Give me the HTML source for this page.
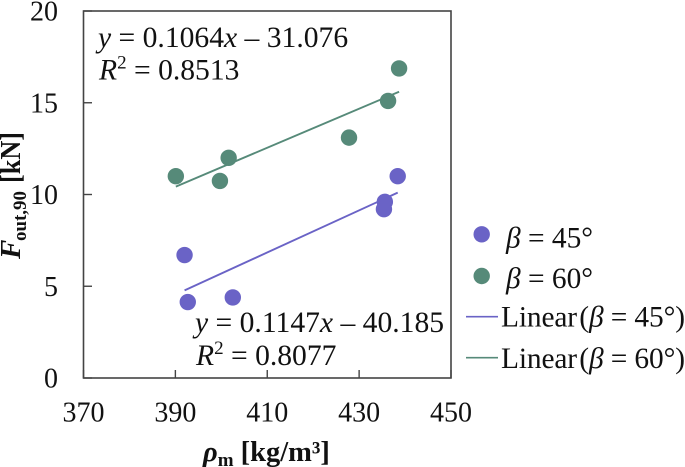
<!DOCTYPE html>
<html lang="en">
<head>
<meta charset="utf-8">
<title>Fout,90 vs density</title>
<style>
html,body{margin:0;padding:0;background:#fff;width:685px;height:467px;overflow:hidden}
svg{display:block}
text{font-family:"Liberation Serif",serif;fill:#111}
.i{font-style:italic}
.b{font-weight:bold}
</style>
</head>
<body>
<svg id="chart" width="685" height="467" viewBox="0 0 685 467" xmlns="http://www.w3.org/2000/svg">
  <rect x="83.5" y="11" width="367.5" height="367" fill="#fff" stroke="#444" stroke-width="1.6"/>
  <g id="marks"></g>
  <g id="ticks"></g>

  <text x="98" y="47" font-size="29.6"><tspan class="i">y</tspan> = 0.1064<tspan class="i">x</tspan> – 31.076</text>
  <text x="99" y="79.500" font-size="29.6"><tspan class="i">R</tspan><tspan font-size="19" dy="-11">2</tspan><tspan dy="11"> = 0.8513</tspan></text>
  <text x="195" y="332" font-size="29.6"><tspan class="i">y</tspan> = 0.1147<tspan class="i">x</tspan> – 40.185</text>
  <text x="196" y="365" font-size="29.6"><tspan class="i">R</tspan><tspan font-size="19" dy="-11">2</tspan><tspan dy="11"> = 0.8077</tspan></text>

  <text x="203" y="461" font-size="28.500" class="b"><tspan class="i">ρ</tspan><tspan font-size="19" dy="5">m</tspan><tspan dy="-5"> [kg/m³]</tspan></text>

  <g transform="translate(20,259) rotate(-90)">
    <text x="0" y="0" font-size="29" class="b i">F</text>
    <text x="18" y="6" font-size="19" class="b" textLength="50" lengthAdjust="spacingAndGlyphs">out,90</text>
    <text x="76" y="0" font-size="28" class="b" textLength="51" lengthAdjust="spacingAndGlyphs">[kN]</text>
  </g>

  <g>
    <circle cx="481.700" cy="234.300" r="8.200" fill="#6a63c6"/>
    <text x="506" y="247.500" font-size="29.400"><tspan class="i">β</tspan> = 45°</text>
    <circle cx="481.700" cy="276" r="8.200" fill="#568a79"/>
    <text x="506" y="288" font-size="29.400"><tspan class="i">β</tspan> = 60°</text>
    <line x1="466" y1="316.700" x2="498" y2="316.700" stroke="#6a63c6" stroke-width="1.6"/>
    <text x="501" y="326.700" font-size="29.400" textLength="184" lengthAdjust="spacing">Linear&#8202;(<tspan class="i">β</tspan> = 45°)</text>
    <line x1="466" y1="357.700" x2="498" y2="357.700" stroke="#568a79" stroke-width="1.6"/>
    <text x="501" y="368" font-size="29.400" textLength="184" lengthAdjust="spacing">Linear&#8202;(<tspan class="i">β</tspan> = 60°)</text>
  </g>
</svg>
<script>
const xTickLabels = [370, 390, 410, 430, 450];
const yTickLabels = [0, 5, 10, 15, 20];
const density45 = [392.0, 392.7, 402.5, 435.6, 435.4, 438.4];
const force45 = [6.7, 4.14, 4.39, 9.6, 9.2, 11.0];
const density60 = [390.1, 399.7, 401.6, 427.8, 436.3, 438.7];
const force60 = [11.0, 10.74, 12.0, 13.1, 15.1, 16.87];
const trendSlope = [0.1147, 0.1064];
const trendIntercept = [-40.185, -31.076];

const NS = 'http://www.w3.org/2000/svg';
const sx = v => 83.5 + (v - 370) * (367.5 / 80);
const sy = v => 378 - v * (367 / 20);
const marks = document.getElementById('marks');
const ticks = document.getElementById('ticks');
const svg = document.getElementById('chart');

function make(tag, attrs, parent) {
  const el = document.createElementNS(NS, tag);
  for (const k in attrs) el.setAttribute(k, attrs[k]);
  parent.appendChild(el);
  return el;
}

xTickLabels.forEach(v => {
  const t = make('line', {x1: sx(v), x2: sx(v), y1: 378, y2: 370, stroke: '#444', 'stroke-width': 1.4}, ticks);
  
  
  const l = make('text', {x: sx(v), y: 421.5, 'font-size': 28, 'text-anchor': 'middle'}, svg);
  
  
  l.textContent = v;
});
yTickLabels.forEach(v => {
  const t = make('line', {x1: 83.5, x2: 92, y1: sy(v), y2: sy(v), stroke: '#444', 'stroke-width': 1.4}, ticks);
  
  
  const l = make('text', {x: 58, y: sy(v) + 9.5, 'font-size': 28, 'text-anchor': 'end'}, svg);
  
  
  l.textContent = v;
});

function drawSeries(xs, ys, slope, intercept, color) {
  const x0 = Math.min(...xs), x1 = Math.max(...xs);
  const line = make('line', {
    x1: sx(x0), y1: sy(slope * x0 + intercept),
    x2: sx(x1), y2: sy(slope * x1 + intercept),
    stroke: color, 'stroke-width': 1.9
  }, marks);
  
  
  xs.forEach((x, i) => {
    const c = make('circle', {cx: sx(x), cy: sy(ys[i]), r: 8.2, fill: color}, marks);
    
    
  });
}
drawSeries(density45, force45, trendSlope[0], trendIntercept[0], '#6a63c6');
drawSeries(density60, force60, trendSlope[1], trendIntercept[1], '#568a79');
</script>
</body>
</html>
